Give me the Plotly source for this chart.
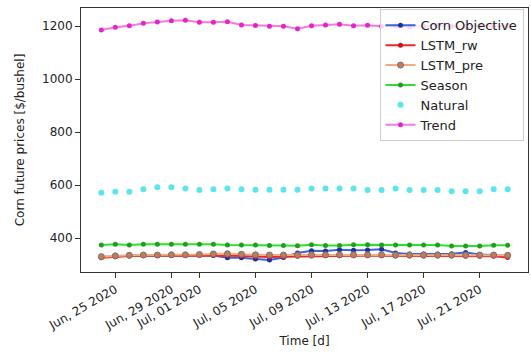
import pandas as pd
import plotly.graph_objects as go

dates = pd.date_range("2020-06-24", periods=30, freq="D")

corn_objective = [329, 332, 333, 334, 334, 335, 335, 336, 334, 326,
                  326, 321, 317, 327, 344, 352, 351, 356, 354, 355,
                  358, 344, 340, 340, 340, 341, 346, 338, 336, 332]
lstm_rw = [326, 330, 332, 333, 333, 334, 334, 334, 335, 333,
           332, 330, 329, 330, 331, 332, 333, 333, 333, 333,
           333, 332, 332, 332, 332, 332, 331, 331, 331, 327]
lstm_pre = [330, 333, 335, 336, 336, 337, 337, 338, 340, 341,
            339, 337, 336, 336, 336, 337, 337, 337, 337, 337,
            337, 336, 336, 336, 336, 336, 336, 336, 336, 335]
season = [374, 377, 374, 377, 377, 377, 377, 377, 377, 374,
          374, 374, 372, 372, 371, 375, 372, 372, 375, 375,
          374, 374, 374, 374, 374, 370, 370, 370, 373, 373]
natural = [571, 575, 575, 584, 592, 592, 587, 581, 584, 587,
           584, 582, 582, 582, 582, 587, 587, 587, 587, 581,
           581, 587, 581, 581, 581, 577, 577, 577, 584, 584]
trend = [1185, 1195, 1201, 1210, 1215, 1220, 1222, 1214, 1214, 1216,
         1204, 1202, 1199, 1199, 1190, 1201, 1204, 1207, 1201, 1203,
         1199, 1200, 1197, 1200, 1202, 1199, 1198, 1201, 1199, 1200]

xtick_vals = ["2020-06-25", "2020-06-29", "2020-07-01", "2020-07-05",
              "2020-07-09", "2020-07-13", "2020-07-17", "2020-07-21"]
xtick_text = ["Jun, 25 2020", "Jun, 29 2020", "Jul, 01 2020", "Jul, 05 2020",
              "Jul, 09 2020", "Jul, 13 2020", "Jul, 17 2020", "Jul, 21 2020"]
ytick_vals = [400, 600, 800, 1000, 1200]

FONT = "DejaVu Sans"

fig = go.Figure()

def add_line(name, y, lc, mc, msize=5, width=2):
    fig.add_trace(go.Scatter(
        x=dates, y=y, name=name, mode="lines+markers",
        line=dict(color=lc, width=width),
        marker=dict(color=mc, size=msize),
    ))

add_line("Corn Objective", corn_objective, "#3a64d8", "#1a2fa0")
add_line("LSTM_rw", lstm_rw, "#f02424", "#c01818")
fig.add_trace(go.Scatter(
    x=dates, y=lstm_pre, name="LSTM_pre", mode="lines+markers",
    line=dict(color="#f2aa80", width=2),
    marker=dict(color="#b88060", size=6, line=dict(color="#8a6a60", width=1)),
))
add_line("Season", season, "#2ee02e", "#1f9f1f")
fig.add_trace(go.Scatter(
    x=dates, y=natural, name="Natural", mode="markers",
    marker=dict(color="#5ae6ea", size=6),
))
add_line("Trend", trend, "#f27cd8", "#e424c8")

fig.update_layout(
    width=531, height=356,
    margin=dict(l=81, r=3, t=8, b=84, autoexpand=False),
    paper_bgcolor="white", plot_bgcolor="white",
    font=dict(family=FONT, size=12, color="#222222"),
    showlegend=True,
    legend=dict(
        x=0.99, y=0.995, xanchor="right", yanchor="top",
        bgcolor="rgba(255,255,255,0.8)", bordercolor="#cccccc", borderwidth=1,
        font=dict(family=FONT, size=13, color="#222222"),
        tracegroupgap=0, itemwidth=30,
    ),
)
fig.update_xaxes(
    automargin=False,
    range=["2020-06-22 13:12", "2020-07-24 10:48"],
    tickvals=xtick_vals, ticktext=xtick_text, tickangle=-30,
    ticks="outside", ticklen=5, tickcolor="#333333",
    showline=True, linecolor="#333333", linewidth=1, mirror=True,
    showgrid=False, zeroline=False,
    title=dict(text="Time [d]", font=dict(family=FONT, size=12), standoff=4),
    tickfont=dict(family=FONT, size=12),
)
fig.update_yaxes(
    automargin=False,
    range=[272, 1268],
    tickvals=ytick_vals,
    ticks="outside", ticklen=5, tickcolor="#333333",
    showline=True, linecolor="#333333", linewidth=1, mirror=True,
    showgrid=False, zeroline=False,
    title=dict(text="Corn future prices [$/bushel]", font=dict(family=FONT, size=12), standoff=14),
    tickfont=dict(family=FONT, size=12),
)

fig.write_html(
    "out.html",
    config={"displayModeBar": False},
    post_script="document.body.style.margin='0';document.body.style.overflow='hidden';",
)
